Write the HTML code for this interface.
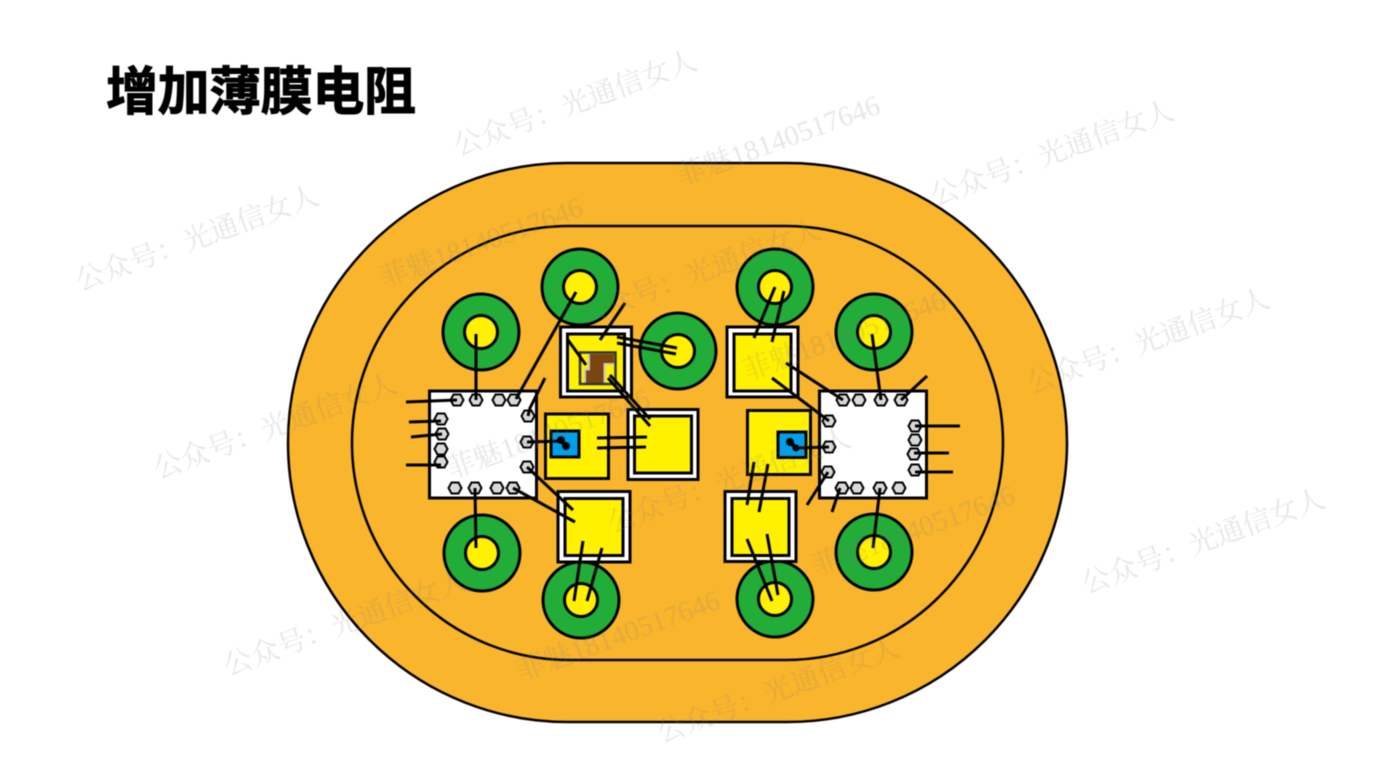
<!DOCTYPE html>
<html><head><meta charset="utf-8"><style>
html,body{margin:0;padding:0;background:#fff;width:1384px;height:779px;overflow:hidden}
svg{display:block;filter:blur(.4px)}
.w{font-family:"Liberation Serif","Noto Serif CJK SC",serif;font-size:28.500px;fill:#808080;fill-opacity:.19}
</style></head><body>
<svg width="1384" height="779" viewBox="0 0 1384 779" xmlns="http://www.w3.org/2000/svg">
<defs><polygon id="h" points="-6.500,0 -3.500,-5.500 3.500,-5.500 6.500,0 3.500,5.500 -3.500,5.500" fill="#d9d9d9" stroke="#000" stroke-width="2"/></defs>
<text x="106" y="110" font-family="'Liberation Sans','Noto Sans CJK SC',sans-serif" font-weight="700" font-size="52" textLength="310" lengthAdjust="spacing" stroke="#000" stroke-width="1">增加薄膜电阻</text>
<rect x="288" y="163" width="779" height="559" rx="279.500" ry="279.500" fill="#f9b52c" stroke="#000" stroke-width="2.500"/>
<rect x="352" y="226" width="651" height="434" rx="217" ry="217" fill="#f9b52c" stroke="#000" stroke-width="2.500"/>

<g stroke="#000" stroke-width="3">
<g fill="#22ac38">
<circle cx="481" cy="332" r="38"/><circle cx="580" cy="287" r="38"/><circle cx="678" cy="351" r="38"/>
<circle cx="482" cy="553" r="38"/><circle cx="581" cy="600" r="38"/>
<circle cx="775" cy="287" r="38"/><circle cx="874" cy="332" r="38"/>
<circle cx="874" cy="552" r="38"/><circle cx="775" cy="599" r="38"/>
</g>
<g fill="#fff100">
<circle cx="481" cy="332" r="16.500"/><circle cx="580" cy="287" r="16.500"/><circle cx="678" cy="351" r="16.500"/>
<circle cx="482" cy="553" r="16.500"/><circle cx="581" cy="600" r="16.500"/>
<circle cx="775" cy="287" r="16.500"/><circle cx="874" cy="332" r="16.500"/>
<circle cx="874" cy="552" r="16.500"/><circle cx="775" cy="599" r="16.500"/>
</g>
<g fill="#fff">
<rect x="429.500" y="391" width="107" height="107"/>
<rect x="819.500" y="391" width="107" height="107"/>
<rect x="560.500" y="327" width="71" height="70"/>
<rect x="628" y="409.500" width="70" height="70"/>
<rect x="558" y="491.500" width="72" height="70.500"/>
<rect x="727" y="327" width="71" height="70"/>
<rect x="725" y="491.500" width="71" height="70"/>
</g>
<g fill="#fff100">
<rect x="567.500" y="334" width="57" height="57"/>
<rect x="634.500" y="416" width="57" height="57"/>
<rect x="565" y="498.500" width="58" height="57"/>
<rect x="734" y="334" width="57" height="57"/>
<rect x="732" y="498.500" width="57" height="57"/>
<rect x="545.500" y="414" width="63" height="64.500"/>
<rect x="747.500" y="410.500" width="63" height="64"/>
</g>
<g fill="#00a0e9">
<rect x="551" y="431" width="28" height="26"/>
<rect x="778" y="432" width="28" height="25.500"/>
</g>
</g>

<!-- thin film resistor -->
<rect x="580" y="352.500" width="35.500" height="31.500" fill="#fff100"/>
<path d="M590 354H614V364H604V383H584V369H590Z" fill="#7b4513"/>
<path d="M589 353V369.500H585V383M615 364H604.500V383" fill="none" stroke="#c8c8c8" stroke-width="2"/>
<rect x="580" y="352.500" width="35.500" height="31.500" fill="none" stroke="#333" stroke-width="2.500"/>

<!-- pads on chips -->
<use href="#h" x="457" y="400"/><use href="#h" x="476" y="400"/><use href="#h" x="499" y="400"/><use href="#h" x="514" y="400"/>
<use href="#h" x="441" y="419"/><use href="#h" x="442" y="434"/><use href="#h" x="441" y="449"/><use href="#h" x="441" y="462"/>
<use href="#h" x="528" y="416"/><use href="#h" x="527" y="442"/><use href="#h" x="527" y="467"/>
<use href="#h" x="455" y="488"/><use href="#h" x="475" y="488"/><use href="#h" x="497" y="488"/><use href="#h" x="513" y="488"/>
<use href="#h" x="843" y="400"/><use href="#h" x="859" y="400"/><use href="#h" x="881" y="400"/><use href="#h" x="901" y="400"/>
<use href="#h" x="829" y="421"/><use href="#h" x="829" y="447"/><use href="#h" x="828" y="472"/>
<use href="#h" x="915" y="426"/><use href="#h" x="915" y="440"/><use href="#h" x="914" y="454"/><use href="#h" x="915" y="470"/>
<use href="#h" x="842" y="488"/><use href="#h" x="857" y="488"/><use href="#h" x="880" y="488"/><use href="#h" x="899" y="488"/>

<!-- bond wires -->
<g stroke="#000" stroke-width="3" fill="none">
<path d="M476 334V400"/>
<path d="M576 292L516 399"/>
<path d="M625 303L600 340"/>
<path d="M617 337L677 348M617 343L676 354"/>
<path d="M568 340L586 365"/>
<path d="M610 375L650 419M608 378L650 426"/>
<path d="M545 378L530 408L528 416"/>
<path d="M406 402L457 400M409 422L441 421M411 437L442 434M406 465L441 465"/>
<path d="M527 442L563 441"/>
<path d="M597 438L647 437M597 448L646 447"/>
<path d="M527 467L573 510M513 488L575 522"/>
<path d="M475 488L476 548"/>
<path d="M583 541L574 601M602 548L587 601"/>
<path d="M775 287L754 338M784 291L772 342"/>
<path d="M786 363L843 400M772 378L829 421"/>
<path d="M872 334L881 400M927 376L901 400"/>
<path d="M915 426L960 426M914 453L949 453M915 472L953 472"/>
<path d="M829 447L795 448"/>
<path d="M828 472L807 505M840 488L832 512"/>
<path d="M880 488L873 548"/>
<path d="M754 462L747 505M768 464L759 512"/>
<path d="M747 539L772 601M767 534L778 595"/>
</g>
<g fill="#000">
<circle cx="561" cy="440" r="4"/><circle cx="566" cy="446" r="4"/>
<circle cx="790" cy="442" r="4"/><circle cx="796" cy="448" r="3.500"/>
</g>
<path d="M561 440L566 446M790 442L796 448" stroke="#000" stroke-width="4"/>

<!-- watermarks -->
<g class="w">
<text transform="translate(80,291) rotate(-20)">公众号：光通信女人</text>
<text transform="translate(458,156) rotate(-20)">公众号：光通信女人</text>
<text transform="translate(935,206) rotate(-20)">公众号：光通信女人</text>
<text transform="translate(1031,394) rotate(-20)">公众号：光通信女人</text>
<text transform="translate(158,479) rotate(-20)">公众号：光通信女人</text>
<text transform="translate(228,676) rotate(-20)">公众号：光通信女人</text>
<text transform="translate(582,325) rotate(-20)">公众号：光通信女人</text>
<text transform="translate(612,533) rotate(-20)">公众号：光通信女人</text>
<text transform="translate(661,743) rotate(-20)">公众号：光通信女人</text>
<text transform="translate(1086,594) rotate(-20)">公众号：光通信女人</text>
<text transform="translate(681,186) rotate(-20)">菲魅18140517646</text>
<text transform="translate(384,288) rotate(-20)">菲魅18140517646</text>
<text transform="translate(747,381) rotate(-20)">菲魅18140517646</text>
<text transform="translate(451,479) rotate(-20)">菲魅18140517646</text>
<text transform="translate(816,576) rotate(-20)">菲魅18140517646</text>
<text transform="translate(521,681) rotate(-20)">菲魅18140517646</text>
</g>
</svg>
</body></html>
